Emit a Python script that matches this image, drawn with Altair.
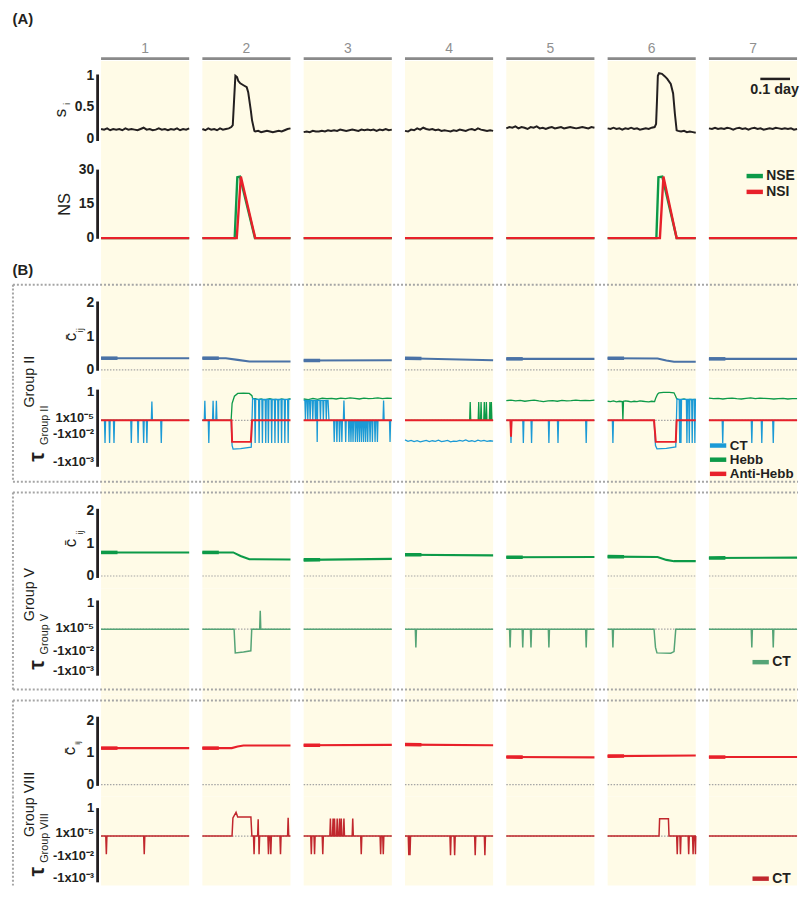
import altair as alt
import numpy as np
import pandas as pd

# ------------------------------------------------------------------ data
DAYS = [1, 2, 3, 4, 5, 6, 7]
DAY_LABELS = ["1", "2", "3", "4", "5", "6", "7"]
SPAN = 0.3        # days of record shown in each day panel
PITCH = 0.3449    # panel + gap on the shared x scale (days)

# s_i : quiet days on a regular time grid (0 .. 0.3 day)
SI_FLAT = {
    1: [0.16, 0.15, 0.17, 0.14, 0.16, 0.15, 0.16, 0.14, 0.17, 0.15, 0.16, 0.15, 0.14, 0.16, 0.18,
        0.15, 0.16, 0.14, 0.15, 0.17, 0.15, 0.16, 0.14, 0.16, 0.15, 0.17, 0.14, 0.16, 0.15, 0.17],
    3: [0.11, 0.12, 0.11, 0.13, 0.12, 0.12, 0.13, 0.12, 0.14, 0.13, 0.14, 0.13, 0.15, 0.14, 0.13,
        0.14, 0.15, 0.14, 0.13, 0.15, 0.14, 0.15, 0.14, 0.15, 0.13, 0.15, 0.14, 0.16, 0.14, 0.15],
    4: [0.13, 0.12, 0.15, 0.14, 0.17, 0.15, 0.18, 0.16, 0.15, 0.16, 0.14, 0.15, 0.13, 0.14, 0.13,
        0.12, 0.14, 0.13, 0.15, 0.14, 0.13, 0.15, 0.16, 0.14, 0.17, 0.15, 0.14, 0.13, 0.14, 0.13],
    5: [0.17, 0.19, 0.18, 0.20, 0.17, 0.19, 0.18, 0.16, 0.19, 0.18, 0.20, 0.17, 0.18, 0.16, 0.18,
        0.19, 0.17, 0.18, 0.19, 0.17, 0.18, 0.19, 0.18, 0.17, 0.18, 0.19, 0.18, 0.17, 0.19, 0.18],
    7: [0.17, 0.16, 0.18, 0.16, 0.17, 0.16, 0.18, 0.17, 0.15, 0.17, 0.18, 0.16, 0.17, 0.15, 0.17,
        0.18, 0.16, 0.17, 0.15, 0.16, 0.17, 0.16, 0.18, 0.17, 0.16, 0.17, 0.16, 0.17, 0.15, 0.16],
}
# s_i : days with a storm, (time, value)
SI_EVENT = {
    2: [(0.00, 0.16), (0.01, 0.14), (0.02, 0.17), (0.03, 0.15), (0.04, 0.16), (0.05, 0.14), (0.06, 0.17),
        (0.07, 0.15), (0.08, 0.16), (0.09, 0.17), (0.0985, 0.19), (0.1035, 0.22), (0.108, 0.62),
        (0.1124, 1.00), (0.118, 0.98), (0.122, 0.92), (0.129, 0.88), (0.140, 0.85), (0.151, 0.82),
        (0.156, 0.74), (0.160, 0.61), (0.165, 0.45), (0.169, 0.30), (0.177, 0.13), (0.18, 0.12),
        (0.19, 0.13), (0.20, 0.11), (0.21, 0.12), (0.22, 0.13), (0.23, 0.12), (0.24, 0.11),
        (0.25, 0.12), (0.26, 0.13), (0.27, 0.12), (0.28, 0.14), (0.29, 0.16), (0.30, 0.17)],
    6: [(0.00, 0.17), (0.01, 0.16), (0.02, 0.18), (0.03, 0.16), (0.04, 0.17), (0.05, 0.15), (0.06, 0.17),
        (0.07, 0.16), (0.08, 0.18), (0.09, 0.16), (0.10, 0.17), (0.11, 0.15), (0.12, 0.16), (0.13, 0.17),
        (0.14, 0.16), (0.15, 0.18), (0.160, 0.19), (0.165, 0.24), (0.168, 0.60), (0.171, 1.00),
        (0.175, 1.04), (0.185, 1.03), (0.195, 0.99), (0.203, 0.95), (0.215, 0.87), (0.223, 0.72),
        (0.229, 0.40), (0.235, 0.14), (0.24, 0.13), (0.25, 0.12), (0.26, 0.13), (0.27, 0.11),
        (0.28, 0.12), (0.29, 0.11), (0.30, 0.10)],
}
SI_TICKS = [0, 0.5, 1]
SI_TICK_LABELS = ["0", "0.5", "1"]

FLAT0 = [(0.0, 0.0), (SPAN, 0.0)]
NS_SERIES = ["NSE", "NSI"]
NSE = {2: [(0, 0), (0.110, 0), (0.119, 27), (0.128, 27.3), (0.179, 0), (0.3, 0)],
       6: [(0, 0), (0.166, 0), (0.173, 27), (0.186, 27.3), (0.235, 0), (0.3, 0)]}
NSI = {2: [(0, 0), (0.117, 0), (0.131, 27.3), (0.180, 0), (0.3, 0)],
       6: [(0, 0), (0.178, 0), (0.190, 27.3), (0.235, 0), (0.3, 0)]}
NS_TICKS = [0, 15, 30]
NS_TICK_LABELS = ["0", "15", "30"]

# mean coupling c_ij per group
C_TICKS = [0, 1, 2]
C_TICK_LABELS = ["0", "1", "2"]
C_II = {1: [(0, 0.35), (0.3, 0.35)],
        2: [(0, 0.35), (0.08, 0.35), (0.12, 0.30), (0.16, 0.25), (0.3, 0.25)],
        3: [(0, 0.28), (0.3, 0.29)],
        4: [(0, 0.35), (0.3, 0.29)],
        5: [(0, 0.33), (0.3, 0.33)],
        6: [(0, 0.35), (0.17, 0.34), (0.20, 0.28), (0.226, 0.24), (0.3, 0.24)],
        7: [(0, 0.33), (0.3, 0.33)]}
C_V = {1: [(0, 0.73), (0.3, 0.73)],
       2: [(0, 0.73), (0.105, 0.73), (0.13, 0.62), (0.16, 0.52), (0.3, 0.51)],
       3: [(0, 0.50), (0.3, 0.53)],
       4: [(0, 0.66), (0.3, 0.64)],
       5: [(0, 0.58), (0.3, 0.59)],
       6: [(0, 0.60), (0.17, 0.59), (0.20, 0.50), (0.226, 0.46), (0.3, 0.46)],
       7: [(0, 0.56), (0.3, 0.57)]}
C_VIII = {1: [(0, 1.14), (0.3, 1.14)],
          2: [(0, 1.14), (0.10, 1.14), (0.12, 1.19), (0.14, 1.22), (0.3, 1.22)],
          3: [(0, 1.23), (0.3, 1.24)],
          4: [(0, 1.25), (0.3, 1.23)],
          5: [(0, 0.86), (0.3, 0.85)],
          6: [(0, 0.89), (0.3, 0.91)],
          7: [(0, 0.86), (0.3, 0.86)]}

# tau (display level: 0 = the 1x10^-5 line); spikes are (time, level[, level it leaves from])
TAU_SERIES_II = ["CT", "Hebb", "Anti-Hebb"]
TII_CT_SPK = {
    1: [(0.0135, -0.81), (0.029, -0.81), (0.044, -0.81), (0.103, -0.81), (0.126, -0.81),
        (0.145, -0.81), (0.156, -0.81), (0.173, 0.67), (0.205, -0.81)],
    2: [(0.0084, 0.70), (0.0219, -0.81), (0.0365, 0.70), (0.0477, 0.70),
        (0.1797, -0.81, 0.75), (0.1932, -0.81, 0.75), (0.2044, -0.81, 0.75), (0.2157, -0.81, 0.75),
        (0.2247, -0.81, 0.75), (0.2359, -0.81, 0.75), (0.2471, -0.81, 0.75), (0.2584, -0.81, 0.75),
        (0.2696, -0.81, 0.75), (0.2808, -0.81, 0.75), (0.2921, -0.81, 0.75)],
    3: [(0.006, 0.0, 0.71), (0.014, 0.0, 0.71), (0.022, 0.0, 0.71), (0.031, 0.0, 0.71),
        (0.040, 0.0, 0.71), (0.046, -0.77, 0.71), (0.057, 0.0, 0.71), (0.067, 0.0, 0.71),
        (0.077, 0.0, 0.71),
        (0.104, -0.77), (0.113, -0.77), (0.122, -0.77), (0.130, -0.77),
        (0.137, 0.71), (0.143, -0.77), (0.154, -0.77), (0.161, -0.77), (0.168, -0.77),
        (0.176, -0.77), (0.183, -0.77), (0.190, -0.77), (0.197, -0.77), (0.204, -0.77),
        (0.211, -0.77), (0.218, -0.77), (0.226, -0.77), (0.234, -0.77), (0.243, -0.77),
        (0.251, -0.77), (0.272, 0.71), (0.294, -0.77)],
    5: [(0.016, -0.81), (0.058, -0.81), (0.086, -0.81), (0.145, -0.81), (0.176, -0.81), (0.272, -0.81)],
    6: [(0.018, -0.81), (0.2455, -0.81, 0.75), (0.2497, -0.81, 0.75), (0.270, -0.81, 0.75),
        (0.278, -0.81, 0.75), (0.288, -0.81, 0.75), (0.297, -0.81, 0.75)],
    7: [(0.047, -0.81), (0.146, -0.81), (0.180, -0.81), (0.219, -0.81)],
}
TII_CT_PTS = {
    2: [(0, 0), (0.0979, 0), (0.1012, -0.90), (0.1046, -1.03), (0.13, -1.01), (0.1664, -0.96),
        (0.171, 0.78), (0.3, 0.75)],
    3: [(0.0, 0.71), (0.083, 0.71), (0.086, 0.0), (0.3, 0.0)],
    6: [(0, 0), (0.158, 0), (0.163, -0.90), (0.168, -1.02), (0.20, -1.00), (0.232, -0.95),
        (0.236, 0.76), (0.3, 0.75)],
}
TII_CT_DAY4 = [-0.70, -0.75, -0.72, -0.76, -0.73, -0.77, -0.74, -0.72, -0.76, -0.73, -0.75, -0.71,
               -0.76, -0.74, -0.72, -0.77, -0.74, -0.75, -0.72, -0.74, -0.70, -0.75, -0.73, -0.76,
               -0.71, -0.74, -0.72, -0.75, -0.73, -0.74]
TII_HEBB_FLAT = {
    3: [0.76, 0.74, 0.78, 0.75, 0.79, 0.77, 0.78, 0.76, 0.79, 0.77, 0.80, 0.78, 0.76, 0.79, 0.77,
        0.78, 0.80, 0.77, 0.79, 0.78],
    5: [0.70, 0.72, 0.69, 0.71, 0.68, 0.70, 0.72, 0.69, 0.67, 0.69, 0.70, 0.68, 0.71, 0.69, 0.70,
        0.72, 0.70, 0.71, 0.70, 0.72],
    7: [0.79, 0.77, 0.78, 0.76, 0.78, 0.79, 0.77, 0.76, 0.78, 0.80, 0.77, 0.79, 0.78, 0.77, 0.76,
        0.77, 0.78, 0.76, 0.77, 0.77],
}
TII_HEBB_PTS = {
    2: [(0, 0), (0.0979, 0), (0.1012, 0.60), (0.1091, 0.86), (0.1204, 0.96), (0.14, 0.97),
        (0.1597, 0.96), (0.1687, 0.88), (0.171, 0.78), (0.18, 0.77), (0.19, 0.74), (0.20, 0.76),
        (0.21, 0.73), (0.22, 0.75), (0.23, 0.77), (0.24, 0.74), (0.25, 0.75), (0.26, 0.73),
        (0.27, 0.76), (0.28, 0.74), (0.29, 0.75), (0.30, 0.77)],
    6: [(0.0, 0.68), (0.01, 0.67), (0.02, 0.69), (0.03, 0.66), (0.04, 0.68), (0.05, 0.67), (0.052, 0.0),
        (0.054, 0.68), (0.06, 0.69), (0.07, 0.68), (0.08, 0.66), (0.09, 0.68), (0.10, 0.67), (0.11, 0.69),
        (0.12, 0.68), (0.13, 0.67), (0.14, 0.66), (0.15, 0.68), (0.16, 0.67), (0.164, 0.80), (0.17, 0.93),
        (0.175, 0.98), (0.19, 1.00), (0.21, 1.00), (0.226, 0.98), (0.232, 0.85), (0.235, 0.77),
        (0.24, 0.75), (0.25, 0.74), (0.26, 0.76), (0.27, 0.73), (0.28, 0.75), (0.29, 0.74), (0.30, 0.75)],
}
TII_HEBB_SPK = {4: [(0.222, 0.65), (0.251, 0.65), (0.259, 0.65), (0.270, 0.65), (0.277, 0.65),
                    (0.289, 0.65), (0.294, 0.65)]}
TII_ANTI_PTS = {2: [(0, 0), (0.099, 0), (0.1012, -0.77), (0.165, -0.77), (0.169, 0), (0.3, 0)],
                6: [(0, 0), (0.158, 0), (0.164, -0.77), (0.232, -0.77), (0.235, 0), (0.3, 0)]}
TII_ANTI_SPK = {5: [(0.016, -0.59)]}

TV_CT_PTS = {2: [(0, 0), (0.108, 0), (0.112, -0.91), (0.14, -0.88), (0.165, -0.83), (0.168, 0), (0.3, 0)],
             6: [(0, 0), (0.158, 0), (0.163, -0.70), (0.168, -0.91), (0.215, -0.92), (0.226, -0.86),
                 (0.232, 0), (0.3, 0)]}
TV_CT_SPK = {2: [(0.197, 0.71)], 4: [(0.037, -0.70)],
             5: [(0.013, -0.70), (0.056, -0.70), (0.084, -0.70), (0.145, -0.70), (0.272, -0.70)],
             6: [(0.018, -0.70)], 7: [(0.146, -0.70), (0.219, -0.70)]}

TVIII_CT_PTS = {2: [(0, 0), (0.101, 0), (0.104, 0.65), (0.1146, 0.85), (0.1202, 0.68), (0.1652, 0.68),
                    (0.1685, 0), (0.3, 0)],
                6: [(0, 0), (0.175, 0), (0.177, 0.62), (0.207, 0.62), (0.209, 0), (0.3, 0)]}
TVIII_CT_SPK = {1: [(0.018, -0.65), (0.147, -0.65)],
                2: [(0.176, -0.65), (0.190, 0.60), (0.193, -0.65), (0.225, -0.65), (0.233, -0.65),
                    (0.266, -0.65), (0.292, 0.65)],
                3: [(0.026, -0.65), (0.037, -0.65), (0.065, -0.65), (0.091, 0.63), (0.100, 0.63),
                    (0.105, 0.63), (0.114, 0.63), (0.122, 0.63), (0.128, 0.63), (0.137, 0.63),
                    (0.167, 0.63), (0.196, -0.65), (0.262, -0.65), (0.271, -0.65)],
                4: [(0.013, -0.68), (0.017, -0.68), (0.155, -0.68), (0.169, -0.68), (0.239, -0.68),
                    (0.272, -0.68)],
                6: [(0.237, -0.65), (0.248, -0.65), (0.276, -0.65), (0.291, -0.65), (0.299, -0.65)]}

# tau axis: where each group's labels sit on its display level scale
TAU_LABELS = ["1", "1x10\u207b\u2075", "-1x10\u207b\u00b2", "-1x10\u207b\u00b3"]
TICKS_II = [1.0, 0.07, -0.484, -1.488]
TICKS_V = [1.0, 0.04, -0.837, -1.608]
TICKS_VIII = [1.0, 0.117, -0.707, -1.495]

# ------------------------------------------------------------------ style / layout
INK = "#231f20"
YELLOW = "#fffbe7"
DOT = "#a5a5a5"
HEAD = "#8a8a8a"
FONT = "Liberation Sans"
BLUE_C = "#4a72a6"
BLUE = "#1b9ad6"
GREEN = "#0c9a48"
RED = "#e8202a"
GREEN_T = "#55a476"
RED_T = "#c1272d"

K = 296.7            # px per day
VIEW_LEFT = 10       # absolute x of the views
W = 796
X0 = -(102 - VIEW_LEFT) / K
X1 = X0 + W / K
AXIS_X = X0 + (98.5 - VIEW_LEFT) / K
THICK_END = 0.056    # the first stretch of each c trace is drawn heavier
xsc = alt.Scale(domain=[X0, X1], nice=False, zero=False)
XA = dict(scale=xsc, axis=None)


def pts_df(d, name):
    rows = []
    for day, pts in d.items():
        for t, v in pts:
            rows.append({"day": day, "t": t, "v": v, "series": name, "xpos": (day - 1) * PITCH + t})
    return pd.DataFrame(rows)


def grid(vals):
    return list(zip(np.linspace(0, SPAN, len(vals)), vals))


def spiky(spk=(), pts=None, w=0.0019):
    base = list(pts) if pts else list(FLAT0)
    for s in spk:
        t, d = s[0], s[1]
        b = s[2] if len(s) > 2 else 0.0
        base += [(t - w, b), (t, d), (t + w, b)]
    return sorted(base)


def series(pts_dict, spk_dict, flat=None):
    out = {}
    for d in DAYS:
        if flat is not None and d in flat:
            out[d] = grid(flat[d])
        elif d in pts_dict or d in spk_dict:
            out[d] = spiky(spk_dict.get(d, ()), pts_dict.get(d))
        else:
            out[d] = list(FLAT0)
    return out


def head(d, t_end):
    """the first stretch of each day's trace, cut at t_end on the drawn polyline"""
    out = {}
    for day, pts in d.items():
        ts = [p[0] for p in pts]
        vs = [p[1] for p in pts]
        keep = [(t, v) for t, v in pts if t < t_end]
        out[day] = keep + [(t_end, float(np.interp(t_end, ts, vs)))]
    return out


panels = pd.DataFrame({"day": DAYS, "label": DAY_LABELS})
panels["start"] = (panels["day"] - 1) * PITCH
panels["end"] = panels["start"] + SPAN
panels["mid"] = panels["start"] + SPAN / 2
panels["zero"] = 0.0

ONE = pd.DataFrame({"a": [0]})


def txt(text, x, y, size, weight="normal", angle=0, color=INK, align="center", font=FONT):
    return alt.Chart(ONE).mark_text(text=text, fontSize=size, fontWeight=weight, angle=angle, color=color,
                                    align=align, baseline="middle", font=font).encode(
        x=alt.value(x), y=alt.value(y))


def hrule(x1, x2, y, color=DOT, width=2, dash=(2, 2)):
    return alt.Chart(ONE).mark_rule(color=color, strokeWidth=width, strokeDash=list(dash)).encode(
        x=alt.value(x1), x2=alt.value(x2), y=alt.value(y))


def vrule(x, y1, y2, color=DOT, width=2, dash=(2, 2)):
    return alt.Chart(ONE).mark_rule(color=color, strokeWidth=width, strokeDash=list(dash)).encode(
        x=alt.value(x), y=alt.value(y1), y2=alt.value(y2))


def base_layers(dom, ticks, tick_labels, ax_lo, ax_hi, zero_line=False, label_size=14):
    """yellow day panels, dotted zero line, thick left axis line with its tick labels"""
    ysc = alt.Scale(domain=dom, nice=False, zero=False)
    layers = [alt.Chart(panels).mark_rect(color=YELLOW).encode(x=alt.X("start:Q", **XA), x2="end:Q")]
    if zero_line:
        layers.append(alt.Chart(panels).mark_rule(color=DOT, strokeWidth=1.2, strokeDash=[1.5, 1.5]).encode(
            x=alt.X("start:Q", **XA), x2="end:Q", y=alt.Y("zero:Q", scale=ysc, axis=None)))
    ax_df = pd.DataFrame({"x": [AXIS_X], "lo": [ax_lo], "hi": [ax_hi]})
    layers.append(alt.Chart(ax_df).mark_rule(color=INK, strokeWidth=2.8).encode(
        x=alt.X("x:Q", **XA), y=alt.Y("lo:Q", scale=ysc, axis=None), y2="hi:Q"))
    tk = pd.DataFrame({"v": ticks, "label": tick_labels})
    layers.append(alt.Chart(tk).mark_text(align="right", baseline="middle", fontSize=label_size,
                                          fontWeight="bold", font=FONT, color=INK).encode(
        x=alt.value(85), y=alt.Y("v:Q", scale=ysc, axis=None), text="label:N"))
    return layers, ysc


def line(df, ysc, color, width=2.0):
    return alt.Chart(df).mark_line(strokeWidth=width, strokeJoin="miter", strokeCap="butt", color=color).encode(
        x=alt.X("xpos:Q", **XA), y=alt.Y("v:Q", scale=ysc, axis=None), detail="day:N", order="t:Q")


def key(names, colors, x, y0, dy, size=14):
    """legend: thick colour swatch + bold label for each series"""
    out = []
    for i, (n, c) in enumerate(zip(names, colors)):
        y = y0 + i * dy
        out.append(alt.Chart(ONE).mark_rule(color=c, strokeWidth=4.5).encode(
            x=alt.value(x), x2=alt.value(x + 16.5), y=alt.value(y)))
        out.append(txt(n, x + 20, y, size, "bold", align="left"))
    return out


rows = []

# ---- header
hdr = alt.layer(
    alt.Chart(panels).mark_rect(color=HEAD).encode(x=alt.X("start:Q", **XA), x2="end:Q",
                                                   y=alt.value(45.3), y2=alt.value(48)),
    alt.Chart(panels).mark_text(fontSize=14, color="#8f8f8f", font=FONT, baseline="middle").encode(
        x=alt.X("mid:Q", **XA), y=alt.value(37), text="label:N"),
    txt("(A)", 13, 7, 15, "bold"),
).properties(width=W, height=49)
rows.append(hdr)

# ---- s_i
si_pts = {d: (SI_EVENT[d] if d in SI_EVENT else grid(SI_FLAT[d])) for d in DAYS}
L, ysc = base_layers([-0.25, 1.234], SI_TICKS, SI_TICK_LABELS, -0.03, 1.02)
bar = pd.DataFrame({"x1": [6 * PITCH + 0.175], "x2": [6 * PITCH + 0.276], "y": [0.95],
                    "tx": [6 * PITCH + 0.2235], "ty": [0.77]})
L += [line(pts_df(si_pts, "si"), ysc, INK, 2.0),
      alt.Chart(bar).mark_rule(color=INK, strokeWidth=2.5).encode(
          x=alt.X("x1:Q", **XA), x2="x2:Q", y=alt.Y("y:Q", scale=ysc, axis=None)),
      alt.Chart(bar).mark_text(text="0.1 day", fontSize=14.5, fontWeight="bold", font=FONT, color=INK,
                               baseline="middle").encode(
          x=alt.X("tx:Q", **XA), y=alt.Y("ty:Q", scale=ysc, axis=None)),
      txt("s", 51.3, 52.7, 17, angle=270), txt("i", 57.5, 43.5, 10, angle=270)]
rows.append(alt.layer(*L).properties(width=W, height=95))

# ---- NS
L, ysc = base_layers([-7.03, 36.9], NS_TICKS, NS_TICK_LABELS, -0.3, 30.4)
L += [line(pts_df(series(NSE, {}), "NSE"), ysc, GREEN, 2.4),
      line(pts_df(series(NSI, {}), "NSI"), ysc, RED, 2.4),
      txt("NS", 56, 50, 16.5, angle=270)]
L += key(NS_SERIES, [GREEN, RED], 744, 21.3, 16)
rows.append(alt.layer(*L).properties(width=W, height=100))


def c_row(data, color, dom, h, ax_lo, ax_hi, top, cpos, ijpos, ijsize, group, gy, blabel=False):
    L, ysc = base_layers(dom, C_TICKS, C_TICK_LABELS, ax_lo, ax_hi, zero_line=True)
    L += [line(pts_df(data, "c"), ysc, color, 2.1),
          line(pts_df(head(data, THICK_END), "c"), ysc, color, 3.6),
          hrule(3, W, top), vrule(3, top, h),
          txt("c\u0304", cpos[0], cpos[1], 17, angle=270),
          txt("ij", ijpos[0], ijpos[1], ijsize, angle=270),
          txt(group, 20, gy, 14.5, angle=270)]
    if blabel:
        L.append(txt("(B)", 13, 16, 15, "bold"))
    return alt.layer(*L).properties(width=W, height=h)


def tau_row(lines, ticks, dom, h, ax_lo, ax_hi, bottom, tau_y, sub, sub_y, legend):
    L, ysc = base_layers(dom, ticks, TAU_LABELS, ax_lo, ax_hi, zero_line=True, label_size=13)
    for df, color, width in lines:
        L.append(line(df, ysc, color, width))
    if bottom is not None:
        L += [hrule(3, W, bottom), vrule(3, 0, bottom)]
    else:
        L.append(vrule(3, 0, h))
    L += [txt("\u03c4", 27, tau_y, 22, "bold", angle=270),
          txt(sub, 35, sub_y, 11, angle=270)]
    L += key(*legend)
    return alt.layer(*L).properties(width=W, height=h)


# ---- Group II
rows.append(c_row(C_II, BLUE_C, [-0.269, 3.493], 126, -0.03, 2.06, 31, (62, 84), (70.5, 77), 10,
                  "Group II", 129, blabel=True))
ct2_series = series(TII_CT_PTS, TII_CT_SPK)
ct2_series[4] = grid(TII_CT_DAY4)
rows.append(tau_row([(pts_df(series(TII_HEBB_PTS, TII_HEBB_SPK, TII_HEBB_FLAT), "Hebb"), GREEN, 1.3),
                     (pts_df(ct2_series, "CT"), BLUE, 1.3),
                     (pts_df(series(TII_ANTI_PTS, TII_ANTI_SPK), "Anti-Hebb"), RED, 2.0)],
                    TICKS_II, [-2.367, 1.484], 109, -1.66, 1.095, 104, 79, "Group II", 47,
                    (TAU_SERIES_II, [BLUE, GREEN, RED], 707, 67.5, 14.3, 13.5)))

# ---- Group V
rows.append(c_row(C_V, GREEN, [-0.389, 2.766], 103, -0.06, 2.08, 6, (61.5, 57), (71, 46.5), 10,
                  "Group V", 109))
rows.append(tau_row([(pts_df(series(TV_CT_PTS, TV_CT_SPK), "CT"), GREEN_T, 1.5)],
                    TICKS_V, [-2.51, 1.559], 107, -1.787, 1.103, 102, 77, "Group V", 46,
                    (["CT"], [GREEN_T], 750, 74.3, 14)))

# ---- Group VIII
rows.append(c_row(C_VIII, RED, [-0.371, 2.813], 103, -0.04, 2.12, 6, (61, 57), (69, 49), 8,
                  "Group VIII", 111))
rows.append(tau_row([(pts_df(series(TVIII_CT_PTS, TVIII_CT_SPK), "CT"), RED_T, 1.5)],
                    TICKS_VIII, [-1.767, 1.413], 90, -1.65, 1.0, None, 76, "Group VIII", 42,
                    (["CT"], [RED_T], 750, 83, 14)))

chart = alt.vconcat(*rows, spacing=0, bounds="flush").resolve_scale(
    x="shared", y="independent").properties(
    padding={"left": 2, "top": 0, "right": 0, "bottom": 0}).configure_view(stroke=None)

chart.save("out.html", embed_options={"renderer": "svg", "actions": False})
